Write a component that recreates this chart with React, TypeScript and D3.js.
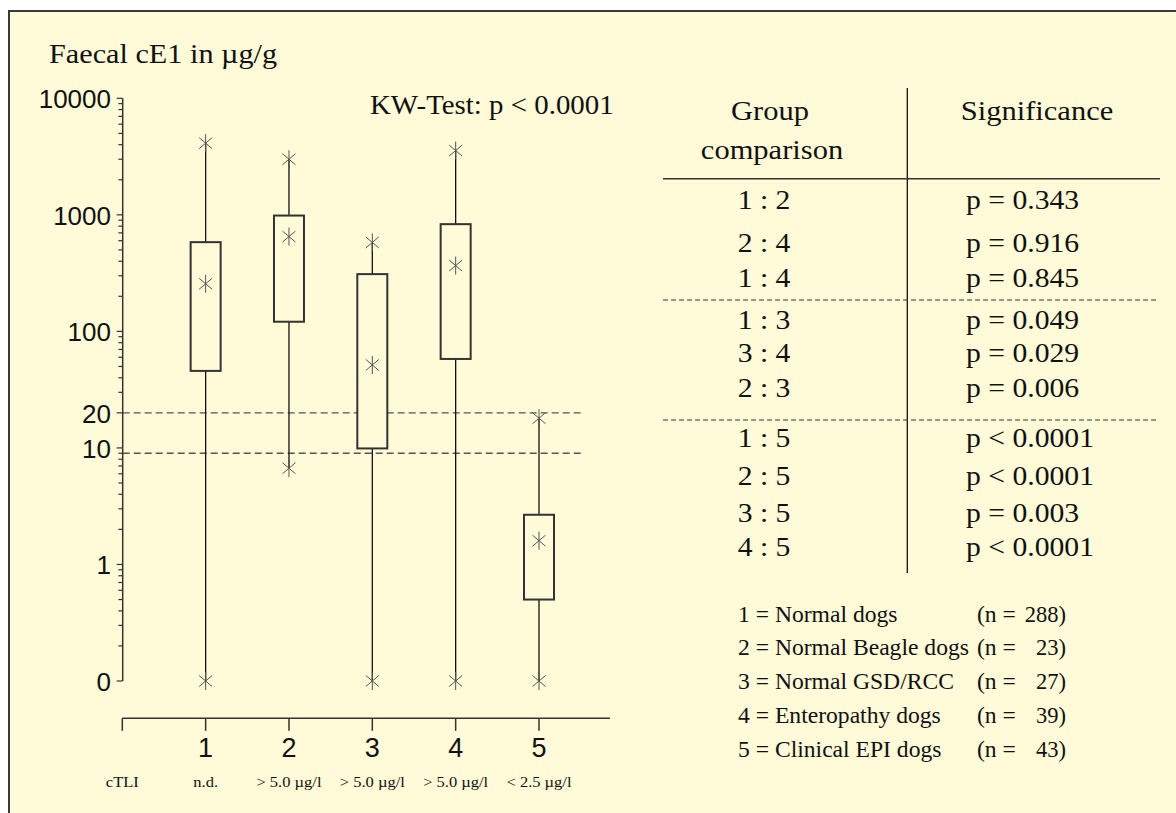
import React from "react";
import * as d3 from "d3";

// ---------- data ----------
const groups = [1, 2, 3, 4, 5];
const whiskerHigh = [4120, 3000, 580, 3560, 18];
const q3 = [583, 986, 310, 832, 2.67];
const median = [256, 651, 51.5, 367, 1.6];
const q1 = [45.8, 121, 9.9, 58, 0.5];
const whiskerLow = [0, 6.7, 0, 0, 0];

const refLines = [20, 9];

const yTickValues = [0.1, 1, 10, 20, 100, 1000, 10000];
const yTickLabels = ["0", "1", "10", "20", "100", "1000", "10000"];

const xTickLabels = ["", "1", "2", "3", "4", "5"];
const cTLILabels = ["cTLI", "n.d.", "> 5.0 µg/l", "> 5.0 µg/l", "> 5.0 µg/l", "< 2.5 µg/l"];

const comparisons = ["1 : 2", "2 : 4", "1 : 4", "1 : 3", "3 : 4", "2 : 3", "1 : 5", "2 : 5", "3 : 5", "4 : 5"];
const significance = [
  "p = 0.343", "p = 0.916", "p = 0.845",
  "p = 0.049", "p = 0.029", "p = 0.006",
  "p < 0.0001", "p < 0.0001", "p = 0.003", "p < 0.0001",
];

const legendNames = [
  "1 = Normal dogs",
  "2 = Normal Beagle dogs",
  "3 = Normal GSD/RCC",
  "4 = Enteropathy dogs",
  "5 = Clinical EPI dogs",
];
const legendN = [288, 23, 27, 39, 43];

const title = "Faecal cE1 in µg/g";
const testLabel = "KW-Test: p < 0.0001";

// ---------- layout ----------
const W = 1176;
const H = 813;
const BG = "#fffad7";
const SERIF = "'Liberation Serif', 'Times New Roman', serif";
const SANS = "'Liberation Sans', Arial, sans-serif";

const AXIS_X = 122.7;
const X_AXIS_Y = 718.3;
const BOX_W = 30;

const tableRowY = [208.5, 251.7, 286.7, 329, 362, 397, 447.3, 485, 521.7, 556];
const tableSepY = [300, 420];
const legendY = [621.7, 655, 689.3, 723.3, 756.7];

const yScale = d3.scaleLog().domain([0.1, 10000]).range([681, 98.3]);
const y = (v: number) => yScale(Math.max(v, 0.1));
const xScale = d3.scaleLinear().domain([0, 5]).range([122.3, 539]);
const X_AXIS_END = 610;

function SText(props: {
  x: number; y: number; size: number; sx?: number; anchor?: string;
  family?: string; children: React.ReactNode; fill?: string;
}) {
  const { x, y: yy, size, sx = 1, anchor = "start", family = SERIF, children, fill = "#111" } = props;
  return (
    <text
      transform={`translate(${x},${yy}) scale(${sx},1)`}
      fontSize={size}
      fontFamily={family}
      textAnchor={anchor}
      fill={fill}
      style={{ whiteSpace: "pre" }}
    >
      {children}
    </text>
  );
}

function Star({ cx, cy }: { cx: number; cy: number }) {
  const r = 9;
  const dx = 6.5;
  const dy = 5.5;
  return (
    <g stroke="#555" strokeWidth={1}>
      <line x1={cx} y1={cy - r} x2={cx} y2={cy + r} />
      <line x1={cx - dx} y1={cy - dy} x2={cx + dx} y2={cy + dy} />
      <line x1={cx - dx} y1={cy + dy} x2={cx + dx} y2={cy - dy} />
    </g>
  );
}

export default function App() {
  const allTicks = yScale.ticks();
  const majorSet = new Set(yTickValues.map((v) => +v.toPrecision(6)));

  return (
    <svg
      width={W}
      height={H}
      style={{ position: "absolute", left: 0, top: 0, display: "block" }}
    >
      <rect x={0} y={0} width={W} height={H} fill="#fff" />
      <rect x={9} y={11} width={W + 20} height={H + 20} fill={BG} stroke="#3a3a3a" strokeWidth={2} />

      {/* title */}
      <SText x={49} y={62.7} size={27} sx={1.12}>{title}</SText>
      <SText x={370} y={114} size={27} sx={1.07}>{testLabel}</SText>

      {/* reference dashed lines */}
      {refLines.map((v, i) => (
        <line key={i} x1={AXIS_X} x2={584} y1={y(v)} y2={y(v)} stroke="#555" strokeWidth={1.3} strokeDasharray="7,4" />
      ))}

      {/* y axis */}
      <line x1={AXIS_X} x2={AXIS_X} y1={yScale(10000)} y2={yScale(0.1)} stroke="#333" strokeWidth={1.5} />
      {allTicks.map((t, i) => {
        const major = majorSet.has(+t.toPrecision(6));
        return (
          <line key={i} x1={AXIS_X - (major ? 6 : 4.3)} x2={AXIS_X} y1={yScale(t)} y2={yScale(t)} stroke="#333" strokeWidth={1.2} />
        );
      })}
      {yTickValues.map((v, i) => (
        <text key={i} x={111} y={yScale(v) + 10} fontSize={26} fontFamily={SANS} textAnchor="end" fill="#111">
          {yTickLabels[i]}
        </text>
      ))}

      {/* boxes */}
      {groups.map((g, i) => {
        const cx = xScale(g);
        return (
          <g key={g}>
            <line x1={cx} x2={cx} y1={y(whiskerHigh[i])} y2={y(q3[i])} stroke="#111" strokeWidth={1.3} />
            <line x1={cx} x2={cx} y1={y(q1[i])} y2={y(whiskerLow[i])} stroke="#111" strokeWidth={1.3} />
            <rect
              x={cx - BOX_W / 2}
              y={y(q3[i])}
              width={BOX_W}
              height={y(q1[i]) - y(q3[i])}
              fill={BG}
              stroke="#333"
              strokeWidth={2}
            />
            <Star cx={cx} cy={y(whiskerHigh[i])} />
            <Star cx={cx} cy={y(median[i])} />
            <Star cx={cx} cy={y(whiskerLow[i])} />
          </g>
        );
      })}

      {/* x axis */}
      <line x1={xScale(0)} x2={X_AXIS_END} y1={X_AXIS_Y} y2={X_AXIS_Y} stroke="#333" strokeWidth={1.5} />
      {xTickLabels.map((lab, i) => (
        <g key={i}>
          <line x1={xScale(i)} x2={xScale(i)} y1={X_AXIS_Y} y2={X_AXIS_Y + 12.5} stroke="#333" strokeWidth={1.5} />
          {lab && (
            <text x={xScale(i)} y={756.7} fontSize={27} fontFamily={SANS} textAnchor="middle" fill="#111">
              {lab}
            </text>
          )}
          <SText x={xScale(i)} y={787.3} size={15} sx={1.1} anchor="middle">{cTLILabels[i]}</SText>
        </g>
      ))}

      {/* table */}
      <line x1={907.3} x2={907.3} y1={88} y2={573} stroke="#111" strokeWidth={1.3} />
      <line x1={663} x2={1160} y1={178.7} y2={178.7} stroke="#333" strokeWidth={1.5} />
      {tableSepY.map((sy, i) => (
        <line key={i} x1={663} x2={1157} y1={sy} y2={sy} stroke="#333" strokeWidth={1.2} strokeDasharray="5,3" />
      ))}
      <SText x={770} y={120} size={27} sx={1.13} anchor="middle">Group</SText>
      <SText x={772} y={159.3} size={27} sx={1.13} anchor="middle">comparison</SText>
      <SText x={1037} y={120} size={27} sx={1.13} anchor="middle">Significance</SText>
      {comparisons.map((c, i) => (
        <SText key={i} x={764} y={tableRowY[i]} size={26.5} sx={1.12} anchor="middle">{c}</SText>
      ))}
      {significance.map((s, i) => (
        <SText key={i} x={966} y={tableRowY[i]} size={26.5} sx={1.12}>{s}</SText>
      ))}

      {/* legend */}
      {legendNames.map((n, i) => (
        <g key={i}>
          <SText x={738} y={legendY[i]} size={22.5} sx={1.05}>{n}</SText>
          <SText x={977} y={legendY[i]} size={22.5} sx={1.05}>(n =</SText>
          <SText x={1066} y={legendY[i]} size={22.5} sx={1.0} anchor="end">{`${legendN[i]})`}</SText>
        </g>
      ))}
    </svg>
  );
}
